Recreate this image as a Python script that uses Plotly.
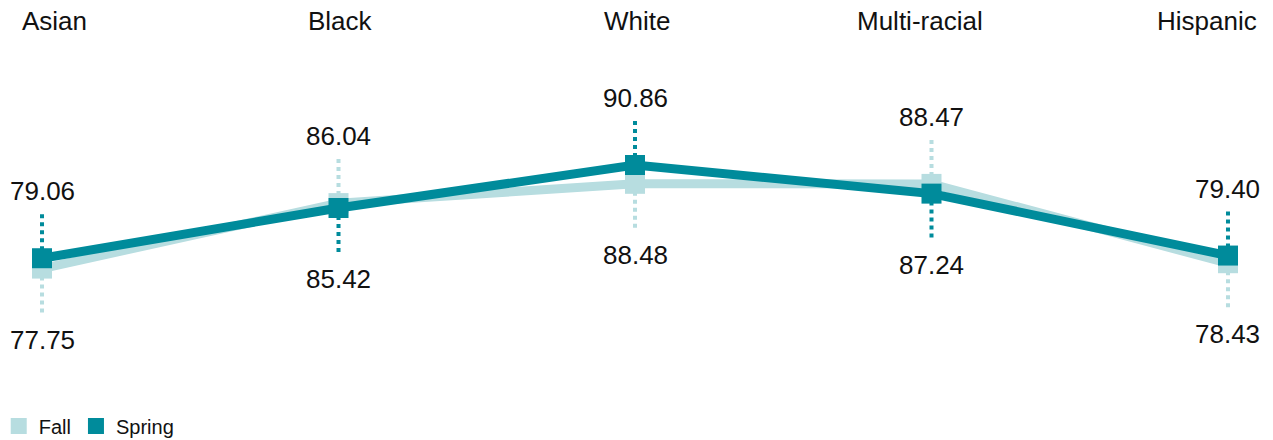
import plotly.graph_objects as go

# Average scores by group, fall vs. spring
groups = ["Asian", "Black", "White", "Multi-racial", "Hispanic"]
fall = [77.75, 86.04, 88.48, 88.47, 78.43]
spring = [79.06, 85.42, 90.86, 87.24, 79.40]

FALL_COLOR = "#b7dde0"
SPRING_COLOR = "#008b9b"
FONT = "Liberation Sans, Arial, sans-serif"
TEXT_COLOR = "#111111"

# horizontal nudges (px) keeping the outer group names inside the frame
header_shift = [12, 2, 2, -12, -21]

fig = go.Figure()

series = [("Fall", fall, FALL_COLOR), ("Spring", spring, SPRING_COLOR)]

for name, vals, color in series:
    fig.add_trace(go.Scatter(
        x=groups, y=vals, mode="lines+markers", name=name,
        line=dict(color=color, width=9),
        marker=dict(symbol="square", size=20, color=color),
        showlegend=False, hoverinfo="skip",
    ))

# legend swatches
for name, vals, color in series:
    fig.add_trace(go.Scatter(
        x=[None], y=[None], mode="markers", name=name,
        marker=dict(symbol="square", size=18, color=color),
        showlegend=True,
    ))

shapes = []
annotations = []
for i, g in enumerate(groups):
    f, s = fall[i], spring[i]
    for v, other, color in ((f, s, FALL_COLOR), (s, f, SPRING_COLOR)):
        up = v >= other
        sign = 1 if up else -1
        # dotted leader from the point towards its label
        shapes.append(dict(
            type="line", layer="below", xref="x", yref="y",
            x0=g, x1=g, ysizemode="pixel", yanchor=v,
            y0=0, y1=sign * 48,
            line=dict(color=color, width=4, dash="dot"),
        ))
        annotations.append(dict(
            x=g, y=v, xref="x", yref="y", text=f"{v:.2f}",
            showarrow=False, yshift=67 if up else -71,
            yanchor="middle", xanchor="center",
            font=dict(family=FONT, size=26, color=TEXT_COLOR),
        ))
    # group name across the top
    annotations.append(dict(
        x=g, y=1 - 21 / 440, xref="x", yref="paper", text=g,
        showarrow=False, yanchor="middle", xanchor="center",
        xshift=header_shift[i],
        font=dict(family=FONT, size=26, color=TEXT_COLOR),
    ))

fig.update_layout(
    width=1273, height=440,
    margin=dict(l=0, r=0, t=0, b=0, autoexpand=False),
    paper_bgcolor="white", plot_bgcolor="white",
    xaxis=dict(range=[-0.1417, 4.1518], visible=False, fixedrange=True),
    yaxis=dict(range=[56.05, 111.75], visible=False, fixedrange=True),
    shapes=shapes, annotations=annotations,
    showlegend=True,
    legend=dict(
        orientation="h", x=-0.001, y=14 / 440, xanchor="left", yanchor="middle",
        font=dict(family=FONT, size=20, color=TEXT_COLOR),
        bgcolor="rgba(0,0,0,0)", itemsizing="trace",
    ),
)

fig.write_html("out.html")
